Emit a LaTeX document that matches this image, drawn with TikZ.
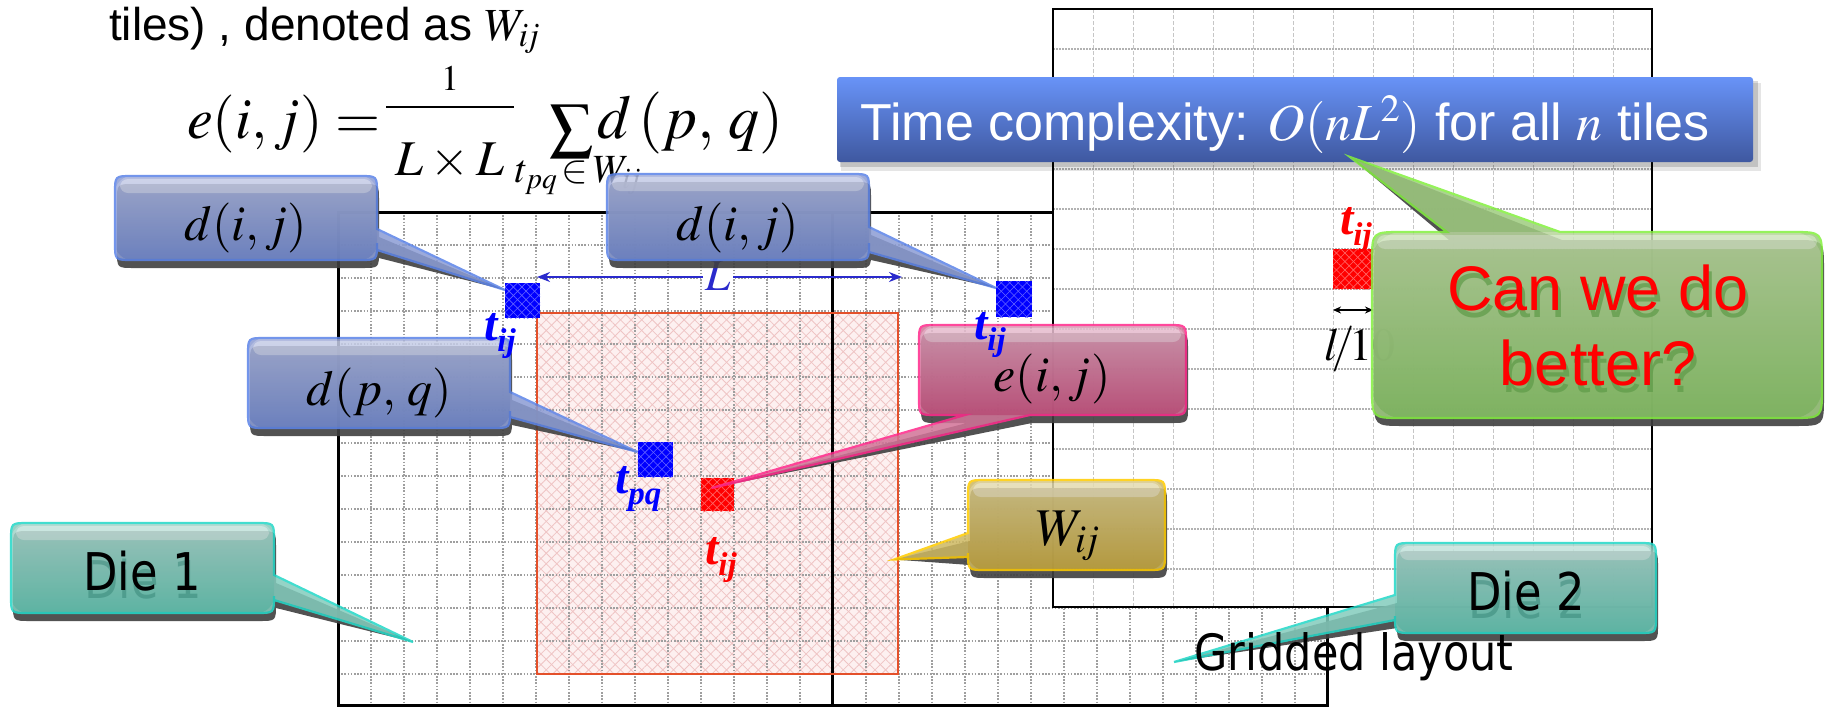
\documentclass[tikz,border=0pt]{standalone}
\usepackage{mathptmx}
\usepackage{fontspec}
\setmainfont{Liberation Serif}
\newfontfamily\arial{Liberation Sans}
\newfontfamily\tahoma{DejaVu Sans}[FakeStretch=0.86]
\newfontfamily\tms{Liberation Serif}
\usetikzlibrary{arrows.meta,patterns.meta,calc}

\definecolor{blutop}{HTML}{A9B3DB}\definecolor{blumid}{HTML}{8C9DD5}
\definecolor{blubot}{HTML}{7088CF}\definecolor{bluline}{HTML}{5C84E8}
\definecolor{pnktop}{HTML}{DB9DB7}\definecolor{pnkmid}{HTML}{D27498}
\definecolor{pnkbot}{HTML}{C9507F}\definecolor{pnkline}{HTML}{FF2A8C}
\definecolor{gldtop}{HTML}{D8CA8C}\definecolor{gldmid}{HTML}{CDB862}
\definecolor{gldbot}{HTML}{C4A53C}\definecolor{gldline}{HTML}{FFCC00}
\definecolor{tealtop}{HTML}{A8D4CB}\definecolor{tealmid}{HTML}{84CCBD}
\definecolor{tealbot}{HTML}{5FC4B0}\definecolor{tealline}{HTML}{24D8C8}
\definecolor{grntop}{HTML}{B8D69C}\definecolor{grnmid}{HTML}{9FCC80}
\definecolor{grnbot}{HTML}{86C364}\definecolor{grnline}{HTML}{84F040}
\definecolor{timetop}{HTML}{6893F7}\definecolor{timebot}{HTML}{3F58A0}
\definecolor{winpink}{HTML}{FDF0F0}\definecolor{winhatch}{HTML}{EFC4C4}
\definecolor{winline}{HTML}{E4502A}\definecolor{Lblue}{HTML}{2A2ACC}
\definecolor{grnshadow}{HTML}{5E9A48}\definecolor{tealshadow}{HTML}{2F7F70}

\newcommand\crad{17}
\newcommand\pathR[7]{({#1+\crad},#2) -- ({#3-\crad},#2) .. controls (#3,#2) .. (#3,{#2+\crad}) -- (#3,#5) -- (#7) -- (#3,#6) -- (#3,{#4-\crad}) .. controls (#3,#4) .. ({#3-\crad},#4) -- ({#1+\crad},#4) .. controls (#1,#4) .. (#1,{#4-\crad}) -- (#1,{#2+\crad}) .. controls (#1,#2) .. ({#1+\crad},#2) -- cycle}
\newcommand\pathL[7]{({#1+\crad},#2) -- ({#3-\crad},#2) .. controls (#3,#2) .. (#3,{#2+\crad}) -- (#3,{#4-\crad}) .. controls (#3,#4) .. ({#3-\crad},#4) -- ({#1+\crad},#4) .. controls (#1,#4) .. (#1,{#4-\crad}) -- (#1,#6) -- (#7) -- (#1,#5) -- (#1,{#2+\crad}) .. controls (#1,#2) .. ({#1+\crad},#2) -- cycle}
\newcommand\pathT[7]{({#1+\crad},#2) -- (#5,#2) -- (#7) -- (#6,#2) -- ({#3-\crad},#2) .. controls (#3,#2) .. (#3,{#2+\crad}) -- (#3,{#4-\crad}) .. controls (#3,#4) .. ({#3-\crad},#4) -- ({#1+\crad},#4) .. controls (#1,#4) .. (#1,{#4-\crad}) -- (#1,{#2+\crad}) .. controls (#1,#2) .. ({#1+\crad},#2) -- cycle}
\newcommand\pathB[7]{({#1+\crad},#2) -- ({#3-\crad},#2) .. controls (#3,#2) .. (#3,{#2+\crad}) -- (#3,{#4-\crad}) .. controls (#3,#4) .. ({#3-\crad},#4) -- (#6,#4) -- (#7) -- (#5,#4) -- ({#1+\crad},#4) .. controls (#1,#4) .. (#1,{#4-\crad}) -- (#1,{#2+\crad}) .. controls (#1,#2) .. ({#1+\crad},#2) -- cycle}
\newcommand\drawcallout[6]{%
  \fill[black!75, opacity=0.9, shift={(2,8)}] #2;
  \begin{scope}[transparency group, opacity=0.86]
    \fill[#1mid] #2;
    \shade[top color=#1top, bottom color=#1bot, rounded corners=\crad] (#3,#4) rectangle (#5,#6);
    \fill[white, opacity=0.35, rounded corners=8] ({#3+5},{#4+3}) rectangle ({#5-5},{#4+17});
    \draw[#1line, line width=2.2] #2;
  \end{scope}}
\newcommand\tlab[1]{\tms\bfseries\itshape\fontsize{48}{48}\selectfont t\raisebox{-11pt}{\fontsize{33}{33}\selectfont #1}}
\newcommand\ijsub{i\mkern-2mu j}

\tikzset{
  gone/.style={gray!75, line width=1.5pt, dash pattern=on 1.6pt off 1.6pt},
  gtwov/.style={gray!45, line width=1pt, dash pattern=on 4pt off 2pt},
  gtwoh/.style={gray!60, line width=1.3pt, dash pattern=on 1.5pt off 1.5pt},
  tileb/.style={fill=blue, postaction={pattern={Lines[angle=45,distance=6pt,line width=0.6pt]}, pattern color=blue!60!white}, postaction={pattern={Lines[angle=-45,distance=6pt,line width=0.6pt]}, pattern color=blue!60!white}},
  tiler/.style={fill=red, postaction={pattern={Lines[angle=45,distance=6pt,line width=0.6pt]}, pattern color=red!60!white}, postaction={pattern={Lines[angle=-45,distance=6pt,line width=0.6pt]}, pattern color=red!60!white}},
  winfill/.style={fill=winpink, postaction={pattern={Lines[angle=45,distance=7.5pt,line width=0.8pt]}, pattern color=winhatch}, postaction={pattern={Lines[angle=-45,distance=7.5pt,line width=0.8pt]}, pattern color=winhatch}},
  calltxt/.style={anchor=base, font=\fontsize{50}{50}\selectfont},
  tl/.style={anchor=base west},
}

\begin{document}
\begin{tikzpicture}[x=1pt,y=-1pt, every node/.style={inner sep=0pt, outer sep=0pt}]
\useasboundingbox (0,0) rectangle (1830,707);
\fill[white] (0,0) rectangle (1830,707);

% ---------- Die 1 ----------
\node[winfill, minimum width=361pt, minimum height=361pt] (win) at (717.5,493.5) {};
\foreach \k in {1,...,29} \draw[gone] ({338+33*\k},212) -- ({338+33*\k},705);
\foreach \k in {1,...,14} \draw[gone] (338,{212+33*\k}) -- (1327,{212+33*\k});
\node[draw, line width=3pt, minimum width=989pt, minimum height=493pt] (die1) at (832.5,458.5) {};
\draw[line width=3pt] (die1.north) -- (die1.south);
\draw[winline, line width=2.4pt] (win.north west) rectangle (win.south east);

% ---------- Die 2 ----------
\node[fill=white, minimum width=599pt, minimum height=598pt] (die2) at (1352.5,308) {};
\foreach \k in {1,...,14} \draw[gtwov] ({1053+40*\k},9) -- ({1053+40*\k},607);
\foreach \k in {1,...,14} \draw[gtwoh] (1053,{9+40*\k}) -- (1652,{9+40*\k});
\draw[line width=2.5pt] (die2.north west) rectangle (die2.south east);

% ---------- tiles ----------
\node[tileb, minimum size=35pt] (tA) at (522.5,300.5) {};
\node[tileb, minimum size=36pt] (tB) at (1014,299) {};
\node[tileb, minimum size=35pt] (tPQ) at (655,459.5) {};
\node[tiler, minimum size=33pt] (tR) at (717,494.5) {};
\node[tiler, minimum size=40pt] (tR2) at (1353,269) {};

% ---------- dimension arrows ----------
\coordinate (La) at ($(win.north west)+(0,-36)$);
\coordinate (Lb) at ($(win.north east)+(4,-36)$);
\draw[Lblue, line width=2.5pt, {Stealth[length=13pt,width=10pt]}-{Stealth[length=13pt,width=10pt]}] (La) -- (Lb);
\node[anchor=base, fill=white, inner sep=2pt, text=Lblue, font=\fontsize{45}{45}\selectfont] (Llab) at (718,290) {$L$};
\coordinate (ta) at ($(tR2.south west)+(0,21)$);
\coordinate (tb) at ($(tR2.south east)+(0,21)$);
\draw[line width=1.5pt, {Stealth[length=8pt,width=7pt]}-{Stealth[length=8pt,width=7pt]}] (ta) -- (tb);
\node[anchor=base west, font=\fontsize{46}{46}\selectfont] (ltxt) at (1324,360) {$l\mkern-3mu/\mkern-2mu 10$};

% ---------- top text and formula ----------
\node[anchor=base west, font=\arial\fontsize{46}{46}\selectfont] (ttl) at (109,40) {tiles) , denoted as $W_{\ijsub}$};
\node[anchor=base west, font=\fontsize{58}{58}\selectfont] (fe) at (187,138) {$e(i,j)=$};
\node[anchor=base, font=\fontsize{36}{36}\selectfont] (fnum) at (450,90) {$1$};
\draw[line width=2.4pt] (386,107) -- (514,107);
\node[anchor=base, font=\fontsize{50}{50}\selectfont] (fden) at (450,175) {$L\times L$};
\node[font=\fontsize{62}{62}\selectfont] (fsum) at (572,131) {$\textstyle\sum$};
\node[anchor=base, font=\fontsize{40}{40}\selectfont] (fsub) at (578,182) {$t_{pq}\!\in\! W_{\ijsub}$};
\node[anchor=base west, font=\fontsize{62}{62}\selectfont] (fd) at (597,138) {$d\,(p,\,q)$};

% ---------- time complexity box ----------
\fill[black, opacity=0.10] (841,83) rectangle (1761,171);
\fill[black, opacity=0.15] (840,81) rectangle (1758,167);
\node[top color=timetop, bottom color=timebot, rounded corners=3pt, minimum width=916pt, minimum height=85pt] (tbox) at (1295,119.5) {};
\node[anchor=base, text=white, font=\arial\fontsize{52}{52}\selectfont] (ttext) at (1285,140) {Time complexity: $O(nL^2)$ for all $n$ tiles};

% ---------- callout tips ----------
\coordinate (pA) at ($(tA.north west)+(0,7)$);
\coordinate (pB) at ($(tB.north west)+(0,7)$);
\coordinate (pPQ) at ($(tPQ.north west)+(0,10)$);
\coordinate (pR) at ($(tR.north west)+(11,10)$);
\coordinate (pW) at ($(win.east)+(-4,66)$);
\coordinate (pD1) at (413,642);
\coordinate (pD2) at (1174,662);
\coordinate (pG) at ($(tbox.south west)+(513,-5)$);

% ---------- callouts ----------
\drawcallout{blu}{\pathR{115}{176}{377}{260}{229}{250}{pA}}{115}{176}{377}{260}
\drawcallout{blu}{\pathR{607}{174}{869}{260}{227}{252}{pB}}{607}{174}{869}{260}
\drawcallout{blu}{\pathR{248}{338}{510}{428}{392}{417}{pPQ}}{248}{338}{510}{428}
\drawcallout{pnk}{\pathB{919}{325}{1186}{415}{965}{1030}{pR}}{919}{325}{1186}{415}
\drawcallout{gld}{\pathL{968}{480}{1165}{570}{533}{557}{pW}}{968}{480}{1165}{570}
\drawcallout{teal}{\pathR{11}{523}{274}{613}{575}{600}{pD1}}{11}{523}{274}{613}
\drawcallout{teal}{\pathL{1395}{543}{1656}{633}{595}{620}{pD2}}{1395}{543}{1656}{633}
\renewcommand\crad{30}
\drawcallout{grn}{\pathT{1372}{232}{1822}{418}{1447}{1560}{pG}}{1372}{232}{1822}{418}

% ---------- callout texts ----------
\node[calltxt] (cd1) at (246,240) {$d(i,j)$};
\node[calltxt] (cd2) at (738,240) {$d(i,j)$};
\node[calltxt] (cdpq) at (379,405) {$d(p,\,q)$};
\node[calltxt] (ceij) at (1052,391) {$e(i,j)$};
\node[calltxt, font=\fontsize{53}{53}\selectfont] (cw) at (1068,545) {$W_{\ijsub}$};
\node[anchor=base, text=tealshadow, opacity=0.45, font=\tahoma\fontsize{52}{52}\selectfont] at (143,598) {Die 1};
\node[anchor=base, font=\tahoma\fontsize{52}{52}\selectfont] (cdie1) at (142,590) {Die 1};
\node[anchor=base, text=tealshadow, opacity=0.45, font=\tahoma\fontsize{52}{52}\selectfont] at (1527,618) {Die 2};
\node[anchor=base, font=\tahoma\fontsize{52}{52}\selectfont] (cdie2) at (1526,610) {Die 2};
\node[anchor=base, text=grnshadow, opacity=0.7, font=\arial\fontsize{63}{63}\selectfont] at (1601,317) {Can we do};
\node[anchor=base, text=grnshadow, opacity=0.7, font=\arial\fontsize{63}{63}\selectfont] at (1601,392) {better?};
\node[anchor=base, text=red, font=\arial\fontsize{63}{63}\selectfont] (cg1) at (1598,310) {Can we do};
\node[anchor=base, text=red, font=\arial\fontsize{63}{63}\selectfont] (cg2) at (1598,385) {better?};

\node[anchor=base, font=\tahoma\fontsize{50}{50}\selectfont] (glay) at (1354,670) {Gridded layout};

% ---------- tile labels ----------
\node[tl, text=blue] (lA) at (484,340) {\tlab{ij}};
\node[tl, text=blue] (lB) at (974,339) {\tlab{ij}};
\node[tl, text=blue] (lPQ) at (615,493) {\tlab{pq}};
\node[tl, text=red] (lR) at (705,564) {\tlab{ij}};
\node[tl, text=red] (lR2) at (1340,234) {\tlab{ij}};
\end{tikzpicture}
\end{document}
